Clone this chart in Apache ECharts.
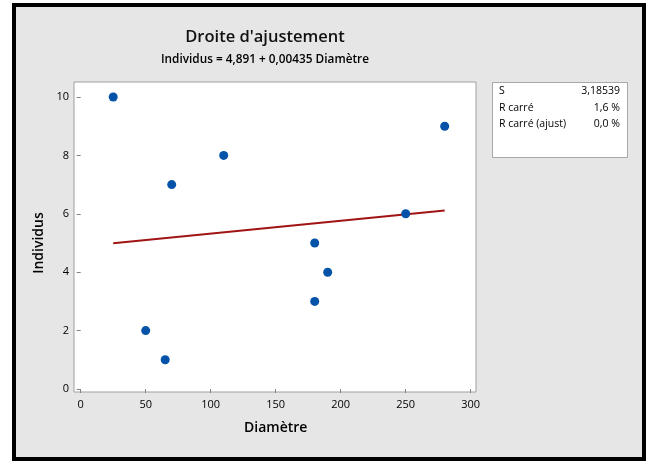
<!DOCTYPE html>
<html><head><meta charset="utf-8">
<script src="https://cdn.jsdelivr.net/npm/echarts@6/dist/echarts.min.js"></script>
<style>html,body{margin:0;padding:0;background:#fff}#c{width:648px;height:461px}</style>
</head><body><div id="c"></div>
<script>
const diametre = [25, 70, 110, 50, 65, 180, 190, 180, 250, 280];
const individus = [10, 7, 8, 2, 1, 5, 4, 3, 6, 9];
const fitX = [25, 280];
const fitY = [4.99, 6.109];
const xTickStep = 50, xMin = 0, xMax = 300;
const yTickStep = 2, yMin = 0, yMax = 10;
const titleText = "Droite d'ajustement";
const subtitleText = "Individus = 4,891 + 0,00435 Diamètre";
const statLabels = ["S", "R carré", "R carré (ajust)"];
const statValues = ["3,18539", "1,6 %", "0,0 %"];

const FONT = "'Open Sans', 'Noto Sans', sans-serif";
const chart = echarts.init(document.getElementById('c'), null, {renderer: 'canvas'});

const statTexts = [];
statLabels.forEach((l, i) => {
  statTexts.push({type: 'text', left: 499, top: 86 + i * 16.5, style: {text: l, font: '500 10.5px ' + FONT, fill: '#000'}});
  statTexts.push({type: 'text', right: 648 - 620, top: 86 + i * 16.5, style: {text: statValues[i], font: '500 10.5px ' + FONT, fill: '#000', textAlign: 'right'}});
});

chart.setOption({
  animation: false,
  backgroundColor: '#ffffff',
  graphic: [
    {type: 'rect', z: -10, shape: {x: 14, y: 5, width: 630, height: 454}, style: {fill: '#e6e6e6', stroke: '#000', lineWidth: 4}, silent: true},
    {type: 'text', x: 265, y: 37, style: {text: titleText, font: '600 16.5px ' + FONT, fill: '#111', textAlign: 'center', textVerticalAlign: 'middle'}},
    {type: 'text', x: 265, y: 60, style: {text: subtitleText, font: '600 11.8px ' + FONT, fill: '#000', textAlign: 'center', textVerticalAlign: 'middle'}},
    {type: 'rect', shape: {x: 492.5, y: 82.5, width: 135, height: 75}, style: {fill: '#fff', stroke: '#a8a8a8', lineWidth: 1}},
    ...statTexts
  ],
  grid: [
    {left: 74, top: 82, right: 172, bottom: 69, show: true, backgroundColor: '#fff', borderColor: '#a0a0a0', borderWidth: 1, z: 0},
    {left: 80.7, top: 97, right: 177.3, bottom: 72, show: false}
  ],
  xAxis: [
    {gridIndex: 0, type: 'value', min: 0, max: 1, show: false},
    {
      gridIndex: 1, type: 'value', min: xMin, max: xMax, interval: xTickStep,
      offset: 4,
      name: 'Diamètre', nameLocation: 'middle', nameGap: 28,
      nameTextStyle: {fontFamily: FONT, fontSize: 14, fontWeight: 600, color: '#000'},
      axisLine: {show: false},
      axisTick: {show: true, length: 4, lineStyle: {color: '#808080', width: 1}},
      axisLabel: {fontFamily: FONT, fontSize: 11, fontWeight: 500, color: '#000', margin: 6},
      splitLine: {show: false}
    }
  ],
  yAxis: [
    {gridIndex: 0, type: 'value', min: 0, max: 1, show: false},
    {
      gridIndex: 1, type: 'value', min: yMin, max: yMax, interval: yTickStep,
      offset: 7.7,
      name: 'Individus', nameLocation: 'middle', nameGap: 21,
      nameTextStyle: {fontFamily: FONT, fontSize: 14, fontWeight: 600, color: '#000'},
      axisLine: {show: false},
      axisTick: {show: true, length: 4, lineStyle: {color: '#808080', width: 1}},
      axisLabel: {fontFamily: FONT, fontSize: 11, fontWeight: 500, color: '#000', margin: 4},
      splitLine: {show: false}
    }
  ],
  series: [
    {type: 'line', xAxisIndex: 1, yAxisIndex: 1, data: fitX.map((x, i) => [x, fitY[i]]), showSymbol: false, symbol: 'none',
     lineStyle: {color: '#a01414', width: 2}, z: 2, clip: false},
    {type: 'scatter', xAxisIndex: 1, yAxisIndex: 1, data: diametre.map((x, i) => [x, individus[i]]), symbolSize: 9,
     itemStyle: {color: '#0553a8', opacity: 1}, z: 3, clip: false}
  ]
});
</script></body></html>
